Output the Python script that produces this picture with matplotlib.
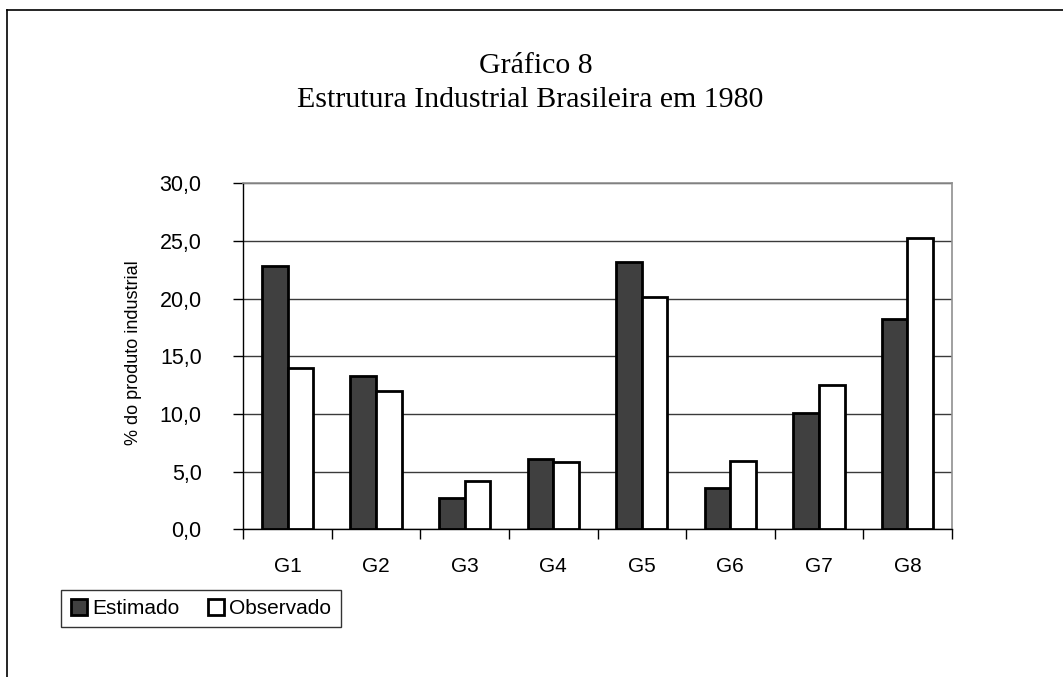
import matplotlib
matplotlib.use("Agg")
import matplotlib.pyplot as plt
import numpy as np
from matplotlib.patches import Patch
from matplotlib.lines import Line2D

# dados
grupos = ['G1', 'G2', 'G3', 'G4', 'G5', 'G6', 'G7', 'G8']
estimado = [22.8, 13.3, 2.7, 6.1, 23.2, 3.6, 10.1, 18.2]
observado = [14.0, 12.0, 4.2, 5.8, 20.1, 5.95, 12.5, 25.3]
yticks = [0, 5, 10, 15, 20, 25, 30]

W, H = 1063, 677
fig = plt.figure(figsize=(W / 100, H / 100), dpi=100)
fig.patch.set_facecolor('white')

# moldura externa (so topo e esquerda aparecem)
fig.add_artist(Line2D([7 / W, 1.0], [1 - 10 / H, 1 - 10 / H], color='black', lw=1.2, transform=fig.transFigure))
fig.add_artist(Line2D([7 / W, 7 / W], [0.0, 1 - 10 / H], color='black', lw=1.2, transform=fig.transFigure))

ax = fig.add_axes([243.3 / W, 1 - 529.3 / H, (951.7 - 243.3) / W, (529.3 - 183.3) / H])

x = np.arange(len(grupos))
larg = 0.29
ax.bar(x - larg / 2, estimado, width=larg, color='#404040', edgecolor='black', linewidth=2, zorder=3)
ax.bar(x + larg / 2, observado, width=larg, color='white', edgecolor='black', linewidth=2, zorder=3)

ax.set_xlim(-0.5, len(grupos) - 0.5)
ax.set_ylim(0, 30)

# eixo y
ax.set_yticks(yticks)
ax.set_yticklabels([f'{v:.1f}'.replace('.', ',') for v in yticks], fontsize=15.5, family='Liberation Sans')
ax.tick_params(axis='y', direction='out', length=7, width=1, pad=23)
ax.yaxis.grid(True, color='#3a3a3a', linewidth=1, zorder=0)

# eixo x: ticks entre categorias, rotulos no centro
ax.set_xticks(np.arange(-0.5, len(grupos)))
ax.set_xticklabels([])
ax.tick_params(axis='x', which='major', direction='out', length=7, width=1)
ax.set_xticks(x, minor=True)
ax.set_xticklabels(grupos, minor=True, fontsize=15, family='Liberation Sans')
ax.tick_params(axis='x', which='minor', length=0, pad=20)

for s in ['top', 'right']:
    ax.spines[s].set_color('#909090')
    ax.spines[s].set_linewidth(1.2)
for s in ['left', 'bottom']:
    ax.spines[s].set_color('black')
    ax.spines[s].set_linewidth(1)

fig.text(133 / W, 1 - 353 / H, '% do produto industrial', rotation=90, ha='center', va='center',
         fontsize=13, family='Liberation Sans')

fig.text(536 / W, 1 - 73 / H, 'Gráfico 8', ha='center', va='baseline', fontsize=21.5, family='Liberation Serif')
fig.text(530 / W, 1 - 107 / H, 'Estrutura Industrial Brasileira em 1980', ha='center', va='baseline',
         fontsize=21.5, family='Liberation Serif')

handles = [Patch(facecolor='#404040', edgecolor='black', linewidth=2, label='Estimado'),
           Patch(facecolor='white', edgecolor='black', linewidth=2, label='Observado')]
leg = fig.legend(handles=handles, loc='center', bbox_to_anchor=(201 / W, 1 - 608.5 / H), ncol=2,
                 frameon=True, fancybox=False, shadow=False, handlelength=0.77, handleheight=0.77,
                 handletextpad=0.24, columnspacing=1.4, borderpad=0.45, borderaxespad=0,
                 prop={'family': 'Liberation Sans', 'size': 15})
leg.get_frame().set_edgecolor('black')
leg.get_frame().set_linewidth(1)

fig.savefig('out.png', dpi=100)
